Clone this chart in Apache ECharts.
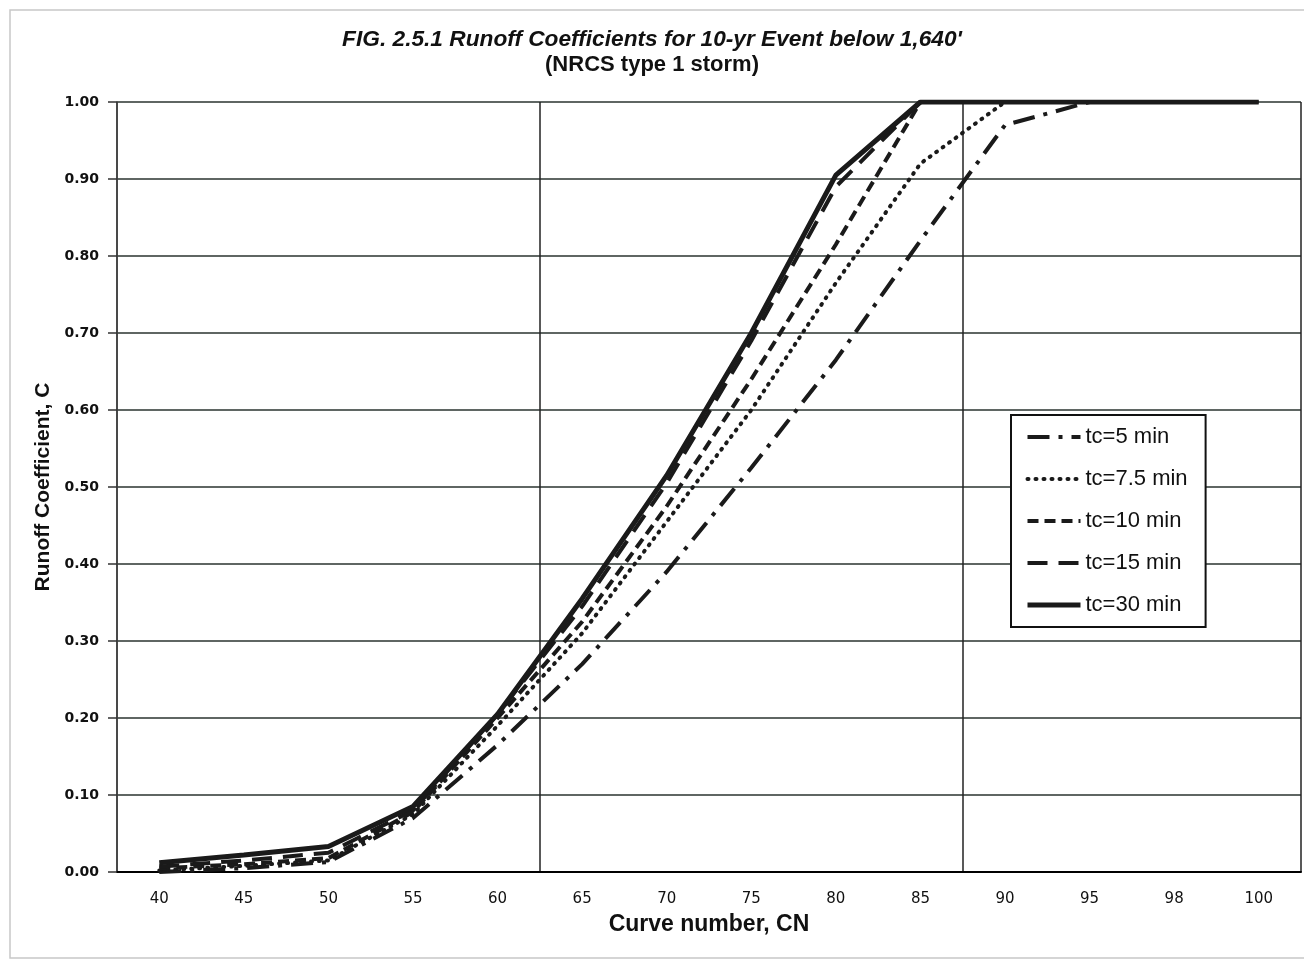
<!DOCTYPE html>
<html>
<head>
<meta charset="utf-8">
<script src="https://cdn.jsdelivr.net/npm/echarts@6/dist/echarts.min.js"></script>
<style>
html,body{margin:0;padding:0;background:#fff;}
#chart{width:1304px;height:962px;}
</style>
</head>
<body>
<div id="chart"></div>
<script>
const categories = ['40','45','50','55','60','65','70','75','80','85','90','95','98','100'];
const tc5   = [0.000, 0.005, 0.013, 0.070, 0.165, 0.270, 0.390, 0.525, 0.665, 0.820, 0.970, 1.000, 1.000, 1.000];
const tc7_5 = [0.002, 0.008, 0.015, 0.075, 0.190, 0.310, 0.455, 0.600, 0.765, 0.920, 1.000, 1.000, 1.000, 1.000];
const tc10  = [0.005, 0.010, 0.018, 0.078, 0.200, 0.325, 0.475, 0.640, 0.815, 1.000, 1.000, 1.000, 1.000, 1.000];
const tc15  = [0.007, 0.015, 0.025, 0.080, 0.205, 0.345, 0.505, 0.690, 0.890, 1.000, 1.000, 1.000, 1.000, 1.000];
const tc30  = [0.012, 0.022, 0.033, 0.085, 0.205, 0.355, 0.515, 0.700, 0.905, 1.000, 1.000, 1.000, 1.000, 1.000];
const seriesNames = ['tc=5 min','tc=7.5 min','tc=10 min','tc=15 min','tc=30 min'];
const titleText = "FIG. 2.5.1 Runoff Coefficients for 10-yr Event below 1,640'";
const subtitleText = '(NRCS type 1 storm)';

const chart = echarts.init(document.getElementById('chart'), null, {renderer:'canvas'});
const lineColor = '#1a1a1a';
function mk(name, data, width, type, cap){
  return {
    name: name, type: 'line', data: data, symbol: 'none', smooth: false,
    lineStyle: {color: lineColor, width: width, type: type, cap: cap || 'butt'},
    itemStyle: {color: lineColor},
    z: 3
  };
}
const option = {
  animation: false,
  backgroundColor: '#fff',
  graphic: [{
    type: 'rect', shape: {x: 10, y: 10, width: 1310, height: 948},
    style: {fill: 'none', stroke: '#c8c8c8', lineWidth: 1.5}, silent: true, z: -1
  }],
  title: [{
    text: titleText, left: 'center', top: 23,
    textStyle: {fontFamily: 'Liberation Sans, Arial, sans-serif', fontSize: 22.7, fontWeight: 'bold', fontStyle: 'italic', color: '#111'}
  },{
    text: subtitleText, left: 'center', top: 49,
    textStyle: {fontFamily: 'Liberation Sans, Arial, sans-serif', fontSize: 22, fontWeight: 'bold', color: '#111'}
  }],
  legend: {
    orient: 'vertical', left: 1011, top: 415,
    data: seriesNames,
    itemWidth: 53, itemHeight: 20, itemGap: 20,
    padding: [11, 18, 11, 14],
    borderColor: '#111', borderWidth: 2, backgroundColor: '#fff',
    itemStyle: {opacity: 0},
    lineStyle: {width: 'inherit', type: 'inherit'},
    textStyle: {fontFamily: 'Liberation Sans, Arial, sans-serif', fontSize: 22, color: '#111'},
    z: 10
  },
  grid: {left: 117, right: 3, top: 102, bottom: 90},
  xAxis: {
    type: 'category', data: categories, boundaryGap: true,
    name: 'Curve number, CN', nameLocation: 'middle', nameGap: 41,
    nameTextStyle: {fontFamily: 'Liberation Sans, Arial, sans-serif', fontSize: 23, fontWeight: 'bold', color: '#111'},
    axisLine: {lineStyle: {color: '#000', width: 2}},
    axisTick: {show: false},
    axisLabel: {fontFamily: 'DejaVu Sans, Verdana, sans-serif', fontSize: 15, color: '#111', margin: 20},
    splitLine: {show: true, interval: 4, lineStyle: {color: '#222', width: 1.5}}
  },
  yAxis: {
    type: 'value', min: 0, max: 1, interval: 0.1,
    name: 'Runoff Coefficient, C', nameLocation: 'middle', nameGap: 63,
    nameTextStyle: {fontFamily: 'Liberation Sans, Arial, sans-serif', fontSize: 21, fontWeight: 'bold', color: '#111'},
    axisLine: {show: true, lineStyle: {color: '#444', width: 1.5}},
    axisTick: {show: true, length: 9, lineStyle: {color: '#333', width: 1.5}},
    axisLabel: {fontFamily: 'DejaVu Sans, Verdana, sans-serif', fontSize: 14, fontWeight: 'bold', color: '#111', margin: 18,
      formatter: function(v){ return v.toFixed(2); }},
    splitLine: {show: true, lineStyle: {color: '#2a332f', width: 1.5}}
  },
  series: [
    mk(seriesNames[0], tc5, 4, [22, 9, 4, 9]),
    mk(seriesNames[1], tc7_5, 4, [1, 7], 'round'),
    mk(seriesNames[2], tc10, 4, [11, 6]),
    mk(seriesNames[3], tc15, 4, [20, 11]),
    mk(seriesNames[4], tc30, 5, 'solid')
  ]
};
chart.setOption(option);
</script>
</body>
</html>
